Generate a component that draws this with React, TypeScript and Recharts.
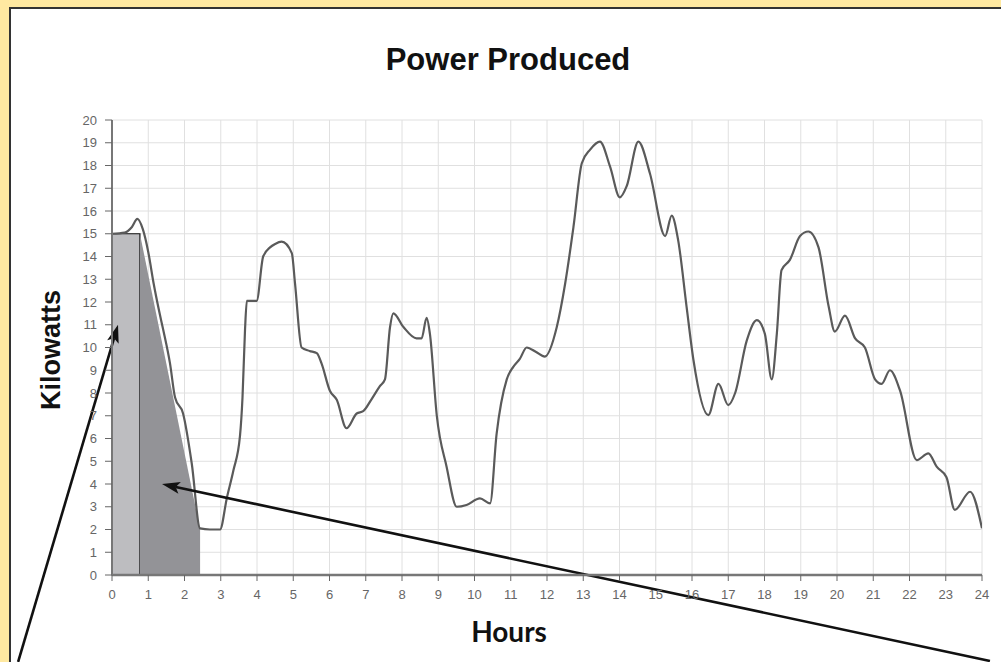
import React from "react";
import {
  ComposedChart,
  Line,
  Area,
  XAxis,
  YAxis,
  CartesianGrid,
  ReferenceArea,
  ReferenceLine,
} from "recharts";

const hours = [
  0, 0.35, 0.55, 0.7, 0.85, 1.0, 1.15, 1.3, 1.41, 1.6, 1.74, 1.96, 2.2, 2.43, 2.7, 2.98,
  3.17, 3.35, 3.53, 3.6, 3.67, 3.72, 3.85, 3.99, 4.17, 4.36, 4.5, 4.68, 4.96, 5.05, 5.23,
  5.45, 5.65, 5.78, 6.01, 6.2, 6.47, 6.75, 6.93, 7.15, 7.39, 7.53, 7.67, 7.76, 8.04, 8.4,
  8.54, 8.68, 8.77, 8.96, 9.23, 9.51, 9.78, 10.15, 10.43, 10.61, 10.89, 11.07, 11.25,
  11.44, 11.7, 11.94, 12.27, 12.5, 12.73, 12.96, 13.19, 13.46, 13.74, 14.01, 14.2, 14.52,
  14.84, 15.26, 15.44, 15.62, 15.85, 16.04, 16.45, 16.73, 17.0, 17.19, 17.51, 17.79,
  18.01, 18.2, 18.34, 18.47, 18.7, 18.98, 19.21, 19.49, 19.77, 19.94, 20.22, 20.5, 20.77,
  21.05, 21.23, 21.46, 21.74, 22.2, 22.52, 22.75, 23.02, 23.25, 23.67, 24.0,
];
const kilowatts = [
  15.0, 15.05, 15.3, 15.65, 15.2, 14.2, 12.8, 11.6, 10.8, 9.3, 7.8, 7.1, 4.9, 2.05, 2.0, 2.0,
  3.4, 4.6, 6.1, 7.8, 10.8, 12.05, 12.05, 12.05, 14.0, 14.4, 14.55, 14.65, 14.15, 12.8, 10.0,
  9.85, 9.75, 9.3, 8.1, 7.7, 6.45, 7.1, 7.2, 7.7, 8.3, 8.6, 10.9, 11.5, 10.9, 10.4,
  10.4, 11.3, 10.6, 7.0, 4.76, 3.0, 3.08, 3.37, 3.15, 6.2, 8.6, 9.15, 9.5,
  10.0, 9.8, 9.6, 10.9, 12.8, 15.3, 18.1, 18.7, 19.05, 17.95, 16.6, 17.1, 19.05,
  17.65, 14.9, 15.8, 14.7, 11.8, 9.45, 7.03, 8.4, 7.47, 8.0, 10.3, 11.2,
  10.6, 8.6, 10.6, 13.4, 13.85, 14.9, 15.1, 14.4, 11.8, 10.7, 11.4, 10.4, 10.0,
  8.6, 8.4, 9.0, 8.1, 5.05, 5.35, 4.76, 4.3, 2.86, 3.66, 2.05,
];

const xTicks = [0, 1, 2, 3, 4, 5, 6, 7, 8, 9, 10, 11, 12, 13, 14, 15, 16, 17, 18, 19, 20, 21, 22, 23, 24];
const yTicks = [0, 1, 2, 3, 4, 5, 6, 7, 8, 9, 10, 11, 12, 13, 14, 15, 16, 17, 18, 19, 20];

// shaded regions (hours, kW)
const rectStart = 0;
const rectEnd = 0.77;
const rectTop = 15;
const wedgeHours = [0.77, 2.43];
const wedgeKw = [15, 2];

// annotation arrows: [fromHour, fromKw, toHour, toKw]
const arrowA = [-2.59, -3.82, 0.166, 11.0];
const arrowB = [24.22, -3.78, 1.38, 4.0];

const data = hours.map((h, i) => ({ h, kw: kilowatts[i] }));
const wedgeData = wedgeHours.map((h, i) => ({ h, w: wedgeKw[i] }));

const ArrowShape = (props: any) => {
  const { x1, y1, x2, y2 } = props;
  const ang = Math.atan2(y2 - y1, x2 - x1);
  const len = 18;
  const half = 6;
  const bx = x2 - len * Math.cos(ang);
  const by = y2 - len * Math.sin(ang);
  const px = -Math.sin(ang) * half;
  const py = Math.cos(ang) * half;
  const lx = x2 - (len - 4) * Math.cos(ang);
  const ly = y2 - (len - 4) * Math.sin(ang);
  return (
    <g>
      <line x1={x1} y1={y1} x2={lx} y2={ly} stroke="#111" strokeWidth={2.6} />
      <polygon
        points={`${x2},${y2} ${bx + px},${by + py} ${lx},${ly} ${bx - px},${by - py}`}
        fill="#111"
      />
    </g>
  );
};

const SANS = "'Liberation Sans', Arial, Helvetica, sans-serif";
const tickStyle = { fill: "#666", fontSize: 13, fontFamily: SANS };

export default function App() {
  return (
    <div
      style={{
        position: "fixed",
        left: 0,
        top: 0,
        width: 1001,
        height: 662,
        background: "#FFE9A1",
        overflow: "hidden",
      }}
    >
      <div
        style={{
          position: "absolute",
          left: 9,
          top: 7,
          width: 1100,
          height: 800,
          background: "#ffffff",
          borderLeft: "2px solid #333",
          borderTop: "2px solid #333",
        }}
      />
      <div
        style={{
          position: "absolute",
          left: 0,
          top: 0,
          width: 1001,
          height: 662,
        }}
      >
        <ComposedChart
          width={1001}
          height={662}
          data={data}
          margin={{ top: 120, right: 19, bottom: 57, left: 0 }}
        >
          <CartesianGrid stroke="#e0e0e0" strokeWidth={1} />
          <XAxis
            dataKey="h"
            type="number"
            domain={[0, 24]}
            ticks={xTicks}
            interval={0}
            height={30}
            tick={tickStyle}
            tickSize={6}
            tickMargin={9}
            axisLine={{ stroke: "#777", strokeWidth: 2.5 }}
            tickLine={{ stroke: "#666" }}
            allowDataOverflow
          />
          <YAxis
            type="number"
            domain={[0, 20]}
            ticks={yTicks}
            interval={0}
            width={112}
            tick={tickStyle}
            tickSize={7}
            tickMargin={8}
            axisLine={{ stroke: "#777", strokeWidth: 2 }}
            tickLine={{ stroke: "#666" }}
            allowDataOverflow
          />
          <ReferenceArea
            x1={rectStart}
            x2={rectEnd}
            y1={0}
            y2={rectTop}
            fill="#bdbdc0"
            fillOpacity={1}
            stroke="#111"
            strokeWidth={1.2}
            ifOverflow="visible"
          />
          <Area
            data={wedgeData}
            dataKey="w"
            type="linear"
            fill="#939397"
            fillOpacity={1}
            stroke="none"
            isAnimationActive={false}
          />
          <Line
            dataKey="kw"
            type="monotone"
            stroke="#5a5a5a"
            strokeWidth={2.2}
            dot={false}
            isAnimationActive={false}
          />
          <ReferenceLine
            segment={[
              { x: arrowA[0], y: arrowA[1] },
              { x: arrowA[2], y: arrowA[3] },
            ]}
            ifOverflow="visible"
            shape={ArrowShape}
          />
          <ReferenceLine
            segment={[
              { x: arrowB[0], y: arrowB[1] },
              { x: arrowB[2], y: arrowB[3] },
            ]}
            ifOverflow="visible"
            shape={ArrowShape}
          />
        </ComposedChart>
      </div>
      <div
        style={{
          position: "absolute",
          left: 508,
          top: 60,
          transform: "translate(-50%, -50%)",
          fontFamily: SANS,
          fontWeight: "bold",
          fontSize: 31,
          color: "#111",
          whiteSpace: "nowrap",
        }}
      >
        Power Produced
      </div>
      <div
        style={{
          position: "absolute",
          left: 51,
          top: 350,
          transform: "translate(-50%, -50%) rotate(-90deg)",
          fontFamily: SANS,
          fontWeight: "bold",
          fontSize: 27,
          color: "#111",
          whiteSpace: "nowrap",
        }}
      >
        Kilowatts
      </div>
      <div
        style={{
          position: "absolute",
          left: 509,
          top: 631,
          transform: "translate(-50%, -50%)",
          fontFamily: "Lato, 'Liberation Sans', sans-serif",
          fontWeight: "bold",
          fontSize: 28,
          color: "#111",
          whiteSpace: "nowrap",
        }}
      >
        Hours
      </div>
    </div>
  );
}
